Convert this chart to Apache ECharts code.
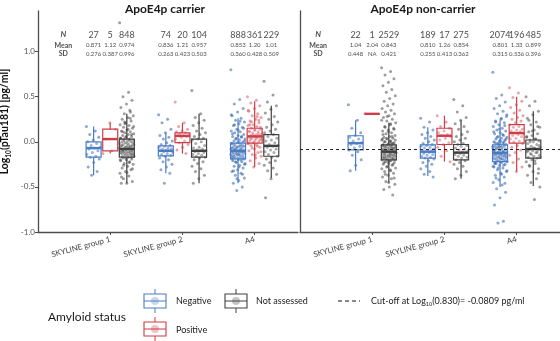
<!DOCTYPE html>
<html>
<head>
<meta charset="utf-8">
<title>pTau181 by amyloid status</title>
<script src="https://cdn.jsdelivr.net/npm/echarts@6/dist/echarts.min.js"></script>
<style>
  html, body { margin: 0; padding: 0; background: #fff; }
  #chart { width: 560px; height: 341px; }
</style>
</head>
<body>
<div id="chart"></div>
<script>
var groups = ['SKYLINE group 1', 'SKYLINE group 2', 'A4'];
var statuses = ['Negative', 'Positive', 'Not assessed'];
var panels = ['ApoE4p carrier', 'ApoE4p non-carrier'];
var yTicks = [-1, -0.5, 0, 0.5, 1];
var cutoff = -0.0809;

// order of every list below: group1 (neg, pos, n/a), group2 (...), A4 (...)
var carrierN = ['27', '5', '848', '74', '20', '104', '888', '361', '229'];
var carrierMean = ['0.871', '1.12', '0.974', '0.836', '1.21', '0.957', '0.853', '1.20', '1.01'];
var carrierSD = ['0.276', '0.387', '0.996', '0.263', '0.423', '0.503', '0.360', '0.428', '0.509'];
var nonCarrierN = ['22', '1', '2529', '189', '17', '275', '2074', '196', '485'];
var nonCarrierMean = ['1.04', '2.04', '0.843', '0.810', '1.26', '0.854', '0.801', '1.33', '0.899'];
var nonCarrierSD = ['0.448', 'NA', '0.421', '0.255', '0.413', '0.362', '0.315', '0.536', '0.396'];

// [lower whisker, q1, median, q3, upper whisker]
var carrierBox = [
  [-0.37, -0.17, -0.07, 0.00, 0.17],
  [-0.13, -0.10, 0.03, 0.14, 0.21],
  [-0.46, -0.17, -0.08, 0.03, 0.31],
  [-0.35, -0.155, -0.10, -0.045, 0.10],
  [-0.13, -0.01, 0.065, 0.10, 0.21],
  [-0.46, -0.17, -0.10, 0.03, 0.31],
  [-0.46, -0.19, -0.10, -0.015, 0.26],
  [-0.28, -0.015, 0.06, 0.15, 0.45],
  [-0.40, -0.16, -0.045, 0.08, 0.40]
];
var nonCarrierBox = [
  [-0.32, -0.09, -0.015, 0.067, 0.24],
  [0.31, 0.31, 0.31, 0.31, 0.31],
  [-0.45, -0.20, -0.11, -0.035, 0.21],
  [-0.38, -0.18, -0.11, -0.035, 0.16],
  [-0.22, -0.03, 0.067, 0.15, 0.29],
  [-0.41, -0.20, -0.12, -0.03, 0.24],
  [-0.50, -0.22, -0.125, -0.033, 0.24],
  [-0.33, -0.015, 0.097, 0.19, 0.50],
  [-0.49, -0.18, -0.08, 0.02, 0.34]
];

// individual log10 values
var carrierPts = [
  [0.17, 0.12, 0.08, 0.05, 0.02, 0.00, -0.02, -0.04, -0.06, -0.07, -0.08, -0.10, -0.12, -0.14, -0.16, -0.17, -0.19, -0.23, -0.28, -0.33, -0.37],
  [-0.13, -0.10, 0.03, 0.14, 0.21],
  [1.32, 0.55, 0.50, 0.46, 0.42, 0.38, 0.35, 0.31, 0.29, 0.27, 0.25, 0.23, 0.21, 0.19, 0.18, 0.16, 0.15, 0.13, 0.12, 0.11, 0.10, 0.09, 0.08, 0.07, 0.06, 0.05, 0.04, 0.03, 0.03, 0.02, 0.01, 0.00, 0.00, -0.01, -0.02, -0.03, -0.03, -0.04, -0.05, -0.05, -0.06, -0.07, -0.07, -0.08, -0.08, -0.09, -0.09, -0.10, -0.11, -0.11, -0.12, -0.13, -0.13, -0.14, -0.15, -0.16, -0.17, -0.18, -0.19, -0.20, -0.21, -0.22, -0.24, -0.25, -0.27, -0.29, -0.31, -0.33, -0.35, -0.38, -0.41, -0.44, -0.46, -0.46,
   0.26, 0.22, 0.17, 0.14, 0.11, 0.08, 0.06, 0.04, 0.02, 0.01, -0.01, -0.02, -0.04, -0.05, -0.06, -0.07, -0.08, -0.09, -0.10, -0.11, -0.12, -0.12, -0.13, -0.14, -0.15, -0.16, -0.17, -0.18, -0.20, -0.23, -0.26, -0.30, -0.34, -0.39, 0.33, 0.20, -0.03, -0.06, -0.10, -0.14],
  [0.30, 0.25, 0.21, 0.14, 0.10, 0.07, 0.05, 0.03, 0.01, -0.01, -0.03, -0.04, -0.05, -0.06, -0.07, -0.08, -0.08, -0.09, -0.10, -0.10, -0.11, -0.12, -0.13, -0.14, -0.15, -0.16, -0.18, -0.20, -0.22, -0.25, -0.28, -0.31, -0.35, -0.46],
  [0.44, 0.21, 0.17, 0.14, 0.12, 0.11, 0.10, 0.09, 0.08, 0.07, 0.07, 0.06, 0.05, 0.03, 0.01, -0.01, -0.03, -0.06, -0.09, -0.13],
  [0.57, 0.31, 0.27, 0.24, 0.21, 0.18, 0.15, 0.12, 0.10, 0.08, 0.06, 0.04, 0.03, 0.02, 0.00, -0.02, -0.04, -0.06, -0.07, -0.08, -0.09, -0.10, -0.10, -0.11, -0.12, -0.13, -0.14, -0.15, -0.16, -0.17, -0.18, -0.20, -0.22, -0.24, -0.27, -0.30, -0.33, -0.37, -0.41, -0.46],
  [0.80, 0.47, 0.42, 0.37, 0.33, 0.29, 0.26, 0.24, 0.22, 0.20, 0.18, 0.16, 0.14, 0.12, 0.11, 0.10, 0.08, 0.07, 0.06, 0.05, 0.04, 0.03, 0.02, 0.01, 0.00, -0.01, -0.02, -0.03, -0.04, -0.05, -0.05, -0.06, -0.07, -0.07, -0.08, -0.09, -0.09, -0.10, -0.10, -0.11, -0.11, -0.12, -0.13, -0.13, -0.14, -0.15, -0.15, -0.16, -0.17, -0.18, -0.19, -0.20, -0.21, -0.22, -0.23, -0.24, -0.26, -0.27, -0.29, -0.31, -0.33, -0.35, -0.37, -0.40, -0.43, -0.46, -0.50, -0.54,
   0.30, 0.23, 0.19, 0.15, 0.13, 0.09, 0.06, 0.03, 0.01, -0.01, -0.03, -0.04, -0.06, -0.07, -0.08, -0.09, -0.10, -0.11, -0.12, -0.12, -0.13, -0.14, -0.15, -0.16, -0.17, -0.18, -0.19, -0.20, -0.22, -0.25, -0.28, -0.32, -0.36, -0.41, -0.02, -0.05, -0.08, -0.11, -0.14, -0.17],
  [0.50, 0.46, 0.43, 0.40, 0.37, 0.34, 0.31, 0.29, 0.27, 0.25, 0.23, 0.21, 0.19, 0.18, 0.17, 0.15, 0.14, 0.13, 0.12, 0.11, 0.10, 0.09, 0.08, 0.07, 0.07, 0.06, 0.05, 0.05, 0.04, 0.03, 0.02, 0.01, 0.00, -0.01, -0.02, -0.03, -0.04, -0.06, -0.08, -0.10, -0.12, -0.14, -0.16, -0.18, -0.21, -0.24, -0.28,
   0.35, 0.28, 0.22, 0.16, 0.13, 0.11, 0.09, 0.08, 0.06, 0.04, 0.03, 0.02, 0.00, -0.02, -0.05, -0.07, -0.11, -0.15, 0.19, 0.24],
  [0.67, 0.52, 0.44, 0.40, 0.36, 0.32, 0.28, 0.25, 0.22, 0.19, 0.16, 0.14, 0.12, 0.10, 0.08, 0.06, 0.04, 0.02, 0.01, -0.01, -0.03, -0.04, -0.05, -0.06, -0.08, -0.09, -0.11, -0.12, -0.14, -0.16, -0.17, -0.19, -0.21, -0.23, -0.26, -0.29, -0.32, -0.36, -0.41, -0.62]
];
var nonCarrierPts = [
  [0.41, 0.24, 0.15, 0.10, 0.07, 0.05, 0.03, 0.01, -0.01, -0.02, -0.03, -0.05, -0.07, -0.09, -0.11, -0.15, -0.20, -0.26, -0.32],
  [0.31],
  [0.82, 0.78, 0.74, 0.70, 0.66, 0.62, 0.58, 0.55, 0.51, 0.48, 0.45, 0.42, 0.40, 0.37, 0.35, 0.33, 0.31, 0.29, 0.27, 0.25, 0.23, 0.21, 0.19, 0.17, 0.15, 0.13, 0.12, 0.10, 0.09, 0.07, 0.06, 0.05, 0.04, 0.03, 0.02, 0.01, 0.00, -0.01, -0.02, -0.03, -0.03, -0.04, -0.05, -0.05, -0.06, -0.07, -0.07, -0.08, -0.08, -0.09, -0.09, -0.10, -0.10, -0.11, -0.11, -0.12, -0.12, -0.13, -0.13, -0.14, -0.14, -0.15, -0.16, -0.16, -0.17, -0.18, -0.18, -0.19, -0.20, -0.21, -0.22, -0.23, -0.24, -0.25, -0.26, -0.28, -0.29, -0.31, -0.33, -0.35, -0.37, -0.39, -0.41, -0.44, -0.47, -0.50, -0.53, -0.59,
   0.28, 0.24, 0.20, 0.16, 0.14, 0.11, 0.08, 0.06, 0.04, 0.02, 0.01, 0.00, -0.02, -0.03, -0.04, -0.05, -0.06, -0.07, -0.08, -0.09, -0.10, -0.11, -0.12, -0.13, -0.14, -0.15, -0.16, -0.17, -0.18, -0.19, -0.20, -0.21, -0.23, -0.25, -0.27, -0.30, -0.32, -0.36, -0.40, -0.45, -0.04, -0.07, -0.10, -0.12, -0.15, -0.17, -0.19, -0.22, 0.03, -0.01],
  [0.26, 0.22, 0.16, 0.13, 0.10, 0.08, 0.06, 0.04, 0.02, 0.00, -0.02, -0.03, -0.04, -0.05, -0.06, -0.07, -0.08, -0.09, -0.10, -0.10, -0.11, -0.11, -0.12, -0.13, -0.14, -0.15, -0.16, -0.17, -0.18, -0.19, -0.21, -0.23, -0.25, -0.27, -0.30, -0.33, -0.36, -0.39],
  [0.29, 0.22, 0.17, 0.15, 0.12, 0.10, 0.08, 0.07, 0.06, 0.04, 0.02, -0.01, -0.03, -0.06, -0.10, -0.16, -0.22],
  [0.47, 0.40, 0.33, 0.27, 0.24, 0.20, 0.17, 0.14, 0.11, 0.08, 0.06, 0.04, 0.02, 0.00, -0.02, -0.03, -0.04, -0.05, -0.07, -0.08, -0.09, -0.10, -0.11, -0.12, -0.12, -0.13, -0.14, -0.15, -0.16, -0.17, -0.18, -0.20, -0.21, -0.23, -0.25, -0.27, -0.30, -0.33, -0.37, -0.41],
  [0.77, 0.52, 0.48, 0.44, 0.40, 0.37, 0.34, 0.31, 0.28, 0.25, 0.23, 0.21, 0.19, 0.17, 0.15, 0.13, 0.12, 0.10, 0.09, 0.07, 0.06, 0.05, 0.04, 0.03, 0.02, 0.01, 0.00, -0.01, -0.02, -0.03, -0.04, -0.05, -0.05, -0.06, -0.07, -0.08, -0.08, -0.09, -0.10, -0.10, -0.11, -0.12, -0.12, -0.13, -0.13, -0.14, -0.15, -0.15, -0.16, -0.17, -0.18, -0.18, -0.19, -0.20, -0.21, -0.22, -0.23, -0.24, -0.25, -0.26, -0.28, -0.29, -0.31, -0.33, -0.35, -0.37, -0.39, -0.42, -0.45, -0.48, -0.52, -0.56, -0.62, -0.70, -0.88, -0.90,
   0.30, 0.26, 0.22, 0.18, 0.14, 0.11, 0.08, 0.05, 0.03, 0.01, -0.01, -0.03, -0.04, -0.05, -0.06, -0.07, -0.08, -0.09, -0.10, -0.11, -0.12, -0.13, -0.14, -0.15, -0.16, -0.17, -0.18, -0.19, -0.20, -0.21, -0.22, -0.24, -0.26, -0.29, -0.32, -0.36, -0.40, -0.46, -0.06, -0.09, -0.11, -0.13, -0.16, -0.19, -0.23, 0.00, -0.02, -0.27],
  [0.60, 0.54, 0.49, 0.45, 0.41, 0.38, 0.35, 0.32, 0.29, 0.27, 0.25, 0.23, 0.21, 0.19, 0.17, 0.16, 0.14, 0.13, 0.12, 0.11, 0.10, 0.09, 0.08, 0.07, 0.06, 0.04, 0.03, 0.01, 0.00, -0.02, -0.04, -0.06, -0.09, -0.12, -0.15, -0.19, -0.23, -0.28, -0.33],
  [0.50, 0.45, 0.40, 0.34, 0.30, 0.26, 0.22, 0.19, 0.16, 0.13, 0.11, 0.09, 0.07, 0.05, 0.03, 0.02, 0.01, 0.00, -0.02, -0.03, -0.05, -0.06, -0.07, -0.08, -0.09, -0.10, -0.11, -0.12, -0.13, -0.15, -0.16, -0.17, -0.18, -0.20, -0.22, -0.24, -0.27, -0.30, -0.33, -0.37, -0.41, -0.45, -0.50, -0.64,
   0.24, 0.17, 0.12, 0.06, 0.03, 0.00, -0.04, -0.07, -0.10, -0.12, -0.14, -0.17, -0.21, -0.26, -0.35]
];

var FONT = 'Lato, "Open Sans", sans-serif';
var boxColors = ['#4a7cc6', '#cc3d47', '#404040'];
var ptColors = ['rgba(22,78,162,0.62)', 'rgba(206,48,60,0.55)', 'rgba(45,45,45,0.58)'];
var DODGE = 0.23;
var HALF = 7.5;
var rowY = { n: 1.185, mean: 1.07, sd: 0.975 };

function jitter(i) {
  var f = (i * 0.6180339887) % 1;
  return (f - 0.5) * 0.2;
}

function renderBox(params, api) {
  var x = api.value(0);
  var lo = api.coord([x, api.value(1)]);
  var q1 = api.coord([x, api.value(2)]);
  var md = api.coord([x, api.value(3)]);
  var q3 = api.coord([x, api.value(4)]);
  var hi = api.coord([x, api.value(5)]);
  var c = api.visual('color');
  return {
    type: 'group',
    children: [
      { type: 'line', shape: { x1: lo[0], y1: lo[1], x2: q1[0], y2: q1[1] }, style: { stroke: c, lineWidth: 1.2 } },
      { type: 'line', shape: { x1: q3[0], y1: q3[1], x2: hi[0], y2: hi[1] }, style: { stroke: c, lineWidth: 1.2 } },
      { type: 'rect', shape: { x: q3[0] - HALF, y: q3[1], width: HALF * 2, height: q1[1] - q3[1] },
        style: { stroke: c, fill: 'rgba(255,255,255,0.15)', lineWidth: 1.2 } },
      { type: 'line', shape: { x1: md[0] - HALF, y1: md[1], x2: md[0] + HALF, y2: md[1] }, style: { stroke: c, lineWidth: 2.4 } }
    ]
  };
}

var series = [];
var boxSets = [carrierBox, nonCarrierBox];
var ptSets = [carrierPts, nonCarrierPts];
var tables = [[carrierN, carrierMean, carrierSD], [nonCarrierN, nonCarrierMean, nonCarrierSD]];
var headX = [0.35, 0.25];

for (var p = 0; p < 2; p++) {
  for (var s = 0; s < 3; s++) {
    var boxData = [];
    var ptData = [];
    for (var g = 0; g < 3; g++) {
      var k = g * 3 + s;
      var cx = g + 1 + (s - 1) * DODGE;
      boxData.push([cx].concat(boxSets[p][k]));
      ptSets[p][k].forEach(function (v, i) {
        ptData.push([cx + jitter(i), v]);
      });
    }
    series.push({
      type: 'scatter', name: statuses[s], xAxisIndex: p, yAxisIndex: p,
      data: ptData, symbolSize: 3, silent: true, z: 2,
      itemStyle: { color: ptColors[s] }
    });
    series.push({
      type: 'custom', name: statuses[s], xAxisIndex: p, yAxisIndex: p,
      data: boxData, renderItem: renderBox, silent: true, z: 3,
      encode: { x: 0, y: [1, 2, 3, 4, 5] },
      itemStyle: { color: boxColors[s] }
    });
  }

  // N / Mean / SD table
  var rows = [['n', 9], ['mean', 6], ['sd', 6]];
  rows.forEach(function (r, ri) {
    var d = [];
    for (var k = 0; k < 9; k++) {
      var g = Math.floor(k / 3), s = k % 3;
      d.push({ value: [g + 1 + (s - 1) * DODGE, rowY[r[0]]], name: tables[p][ri][k] });
    }
    series.push({
      type: 'scatter', xAxisIndex: p, yAxisIndex: p, data: d, symbolSize: 0.1, silent: true, z: 5,
      label: { show: true, position: 'inside', formatter: '{b}', fontSize: r[1], color: '#222', fontFamily: FONT }
    });
  });
  series.push({
    type: 'scatter', xAxisIndex: p, yAxisIndex: p, symbolSize: 0.1, silent: true, z: 5,
    data: [
      { value: [headX[p], rowY.n], name: 'N', label: { fontStyle: 'italic', fontSize: 8 } },
      { value: [headX[p], rowY.mean], name: 'Mean' },
      { value: [headX[p], rowY.sd], name: 'SD' }
    ],
    label: { show: true, position: 'inside', formatter: '{b}', fontSize: 7, fontWeight: 'bold', color: '#222', fontFamily: FONT }
  });
}

// cut-off line on the non-carrier panel
series.push({
  type: 'scatter', xAxisIndex: 1, yAxisIndex: 1, data: [], z: 6, silent: true,
  markLine: {
    silent: true, symbol: 'none', label: { show: false },
    lineStyle: { color: '#222', type: [3, 3], width: 1 },
    data: [{ yAxis: cutoff }]
  }
});

function xAxisFor(idx) {
  return {
    type: 'value', gridIndex: idx, min: 0, max: 3.6,
    splitLine: { show: false },
    axisLine: { show: true, onZero: false, lineStyle: { color: '#4d4d4d', width: 1.3 } },
    axisTick: { show: true, length: 3, customValues: [1, 2, 3], lineStyle: { color: '#4d4d4d' } },
    axisLabel: {
      customValues: [1, 2, 3], rotate: 15, fontSize: 8, color: '#444', fontFamily: FONT, margin: 7,
      formatter: function (v) { return groups[Math.round(v) - 1] || ''; }
    }
  };
}
function yAxisFor(idx) {
  var ax = {
    type: 'value', gridIndex: idx, min: -1, max: 1.45,
    splitLine: { show: false },
    axisLine: { show: true, onZero: false, lineStyle: { color: '#4d4d4d', width: 1.3 } },
    axisTick: { show: idx === 0, length: 3, customValues: yTicks, lineStyle: { color: '#4d4d4d' } },
    axisLabel: {
      show: idx === 0, customValues: yTicks, fontSize: 8, color: '#555', fontFamily: FONT, margin: 3,
      formatter: function (v) { return v.toFixed(1); }
    }
  };
  if (idx === 0) {
    ax.name = '{a|Log}{s|10}{a|(pTau181) [pg/ml]}';
    ax.nameLocation = 'middle';
    ax.nameGap = 26;
    ax.nameTextStyle = {
      rich: {
        a: { fontSize: 10.5, fontWeight: 'bold', color: '#111', fontFamily: FONT, lineHeight: 14, verticalAlign: 'middle' },
        s: { fontSize: 6.5, fontWeight: 'bold', color: '#111', fontFamily: FONT, lineHeight: 14, verticalAlign: 'bottom' }
      }
    };
  }
  return ax;
}

function legendBox(x, y, color, fillC) {
  var cx = x + 11;
  return [
    { type: 'line', shape: { x1: cx, y1: y - 5, x2: cx, y2: y }, style: { stroke: color, lineWidth: 1 } },
    { type: 'line', shape: { x1: cx, y1: y + 14, x2: cx, y2: y + 19 }, style: { stroke: color, lineWidth: 1 } },
    { type: 'rect', shape: { x: x, y: y, width: 22, height: 14 }, style: { stroke: color, fill: '#fff', lineWidth: 1.1 } },
    { type: 'circle', shape: { cx: cx, cy: y + 7, r: 4 }, style: { fill: fillC } },
    { type: 'line', shape: { x1: x, y1: y + 7, x2: x + 22, y2: y + 7 }, style: { stroke: color, lineWidth: 1 } }
  ];
}
function label(txt, x, y, size, weight, align) {
  return {
    type: 'text', x: x, y: y,
    style: {
      text: txt, fontSize: size, fontWeight: weight || 'normal', fontFamily: FONT, fill: '#1a1a1a',
      align: align || 'left', textAlign: align || 'left', verticalAlign: 'middle', textVerticalAlign: 'middle'
    }
  };
}

var graphics = [
  label(panels[0], 165, 9, 12, 'bold', 'center'),
  label(panels[1], 423, 9, 12, 'bold', 'center'),
  label('Amyloid status', 48, 317, 12),
  label(statuses[0], 176, 301, 9),
  label(statuses[1], 176, 330, 9),
  label(statuses[2], 256, 301, 9),
  { type: 'line', shape: { x1: 338, y1: 301, x2: 360, y2: 301 }, style: { stroke: '#111', lineWidth: 1.2, lineDash: [4, 3] } },
  {
    type: 'text', x: 371, y: 301,
    style: {
      text: '{a|Cut-off at Log}{s|10}{a|(0.830)= -0.0809 pg/ml}',
      verticalAlign: 'middle', textVerticalAlign: 'middle',
      rich: {
        a: { fontSize: 9, fontFamily: FONT, fill: '#1a1a1a', color: '#1a1a1a', lineHeight: 13, verticalAlign: 'middle' },
        s: { fontSize: 5.5, fontFamily: FONT, fill: '#1a1a1a', color: '#1a1a1a', lineHeight: 13, verticalAlign: 'bottom' }
      }
    }
  }
].concat(legendBox(144, 294, boxColors[0], 'rgba(74,124,198,0.3)'))
 .concat(legendBox(144, 322, boxColors[1], 'rgba(204,61,71,0.3)'))
 .concat(legendBox(225, 294, boxColors[2], 'rgba(64,64,64,0.3)'));

var chart = echarts.init(document.getElementById('chart'));
chart.setOption({
  animation: false,
  backgroundColor: '#fff',
  textStyle: { fontFamily: FONT },
  grid: [
    { left: 38, top: 11, width: 260, height: 221, outerBoundsMode: 'none' },
    { left: 300, top: 11, width: 260, height: 221, outerBoundsMode: 'none' }
  ],
  xAxis: [xAxisFor(0), xAxisFor(1)],
  yAxis: [yAxisFor(0), yAxisFor(1)],
  graphic: graphics,
  series: series
});
</script>
</body>
</html>
